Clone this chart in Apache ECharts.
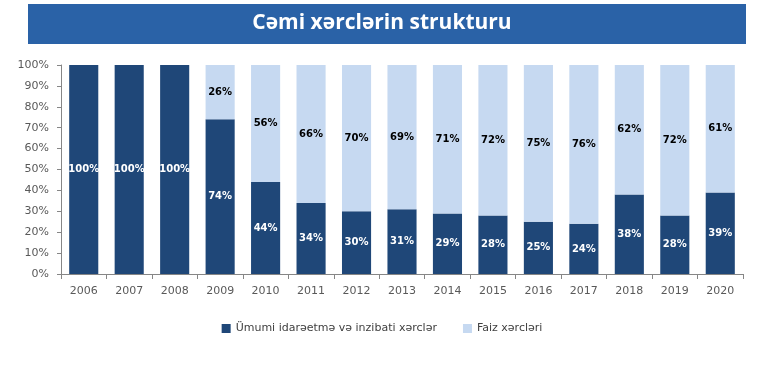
<!DOCTYPE html>
<html><head><meta charset="utf-8">
<script src="https://cdn.jsdelivr.net/npm/echarts@6/dist/echarts.min.js"></script>
<style>html,body{margin:0;padding:0;background:#fff}#c{width:764px;height:370px}</style>
</head><body><div id="c"></div>
<script>
const years = ['2006','2007','2008','2009','2010','2011','2012','2013','2014','2015','2016','2017','2018','2019','2020'];
const generalAdmin = [100,100,100,74,44,34,30,31,29,28,25,24,38,28,39];
const interest = [0,0,0,26,56,66,70,69,71,72,75,76,62,72,61];
const yTicks = [0,10,20,30,40,50,60,70,80,90,100];
const titleText = 'Cəmi xərclərin strukturu';
const seriesNames = ['Ümumi idarəetmə və inzibati xərclər', 'Faiz xərcləri'];

const chart = echarts.init(document.getElementById('c'));
const axisFont = {fontFamily:'DejaVu Sans', fontSize:11, color:'#595959'};
chart.setOption({
  animation:false,
  graphic:[{type:'rect', shape:{x:28,y:4,width:718,height:40}, style:{fill:'#2A62A7'}}],
  title:{text:titleText, left:'center', top:8, textStyle:{color:'#fff', fontFamily:'Open Sans', fontWeight:'bold', fontSize:21}},
  legend:{bottom:31, left:'center', itemWidth:9, itemHeight:9, itemGap:26, icon:'rect',
    textStyle:{fontFamily:'DejaVu Sans', fontSize:11, color:'#404040'}},
  grid:{left:61, right:21, top:65, bottom:96, containLabel:false},
  xAxis:{type:'category', data:years,
    axisLine:{lineStyle:{color:'#868686'}},
    axisTick:{show:true, alignWithLabel:false, length:5, lineStyle:{color:'#868686'}},
    axisLabel:Object.assign({margin:12}, axisFont)},
  yAxis:{type:'value', min:0, max:100, interval:10,
    axisLine:{show:true, lineStyle:{color:'#868686'}},
    axisTick:{show:true, length:4, lineStyle:{color:'#868686'}},
    splitLine:{show:false},
    axisLabel:Object.assign({margin:12, formatter:v=>yTicks.includes(v)?v+'%':''}, axisFont)},
  series:[
    {name:seriesNames[0], type:'bar', stack:'s', data:generalAdmin, barCategoryGap:'36%',
     itemStyle:{color:'#1F4778'},
     label:{show:true, position:'inside', formatter:p=>p.value+'%', color:'#fff', fontWeight:'bold', fontFamily:'DejaVu Sans', fontSize:10}},
    {name:seriesNames[1], type:'bar', stack:'s', data:interest,
     itemStyle:{color:'#C6D9F1'},
     label:{show:true, position:'inside', formatter:p=>p.value>0?p.value+'%':'', color:'#000', fontWeight:'bold', fontFamily:'DejaVu Sans', fontSize:10}}
  ]
});
</script></body></html>
